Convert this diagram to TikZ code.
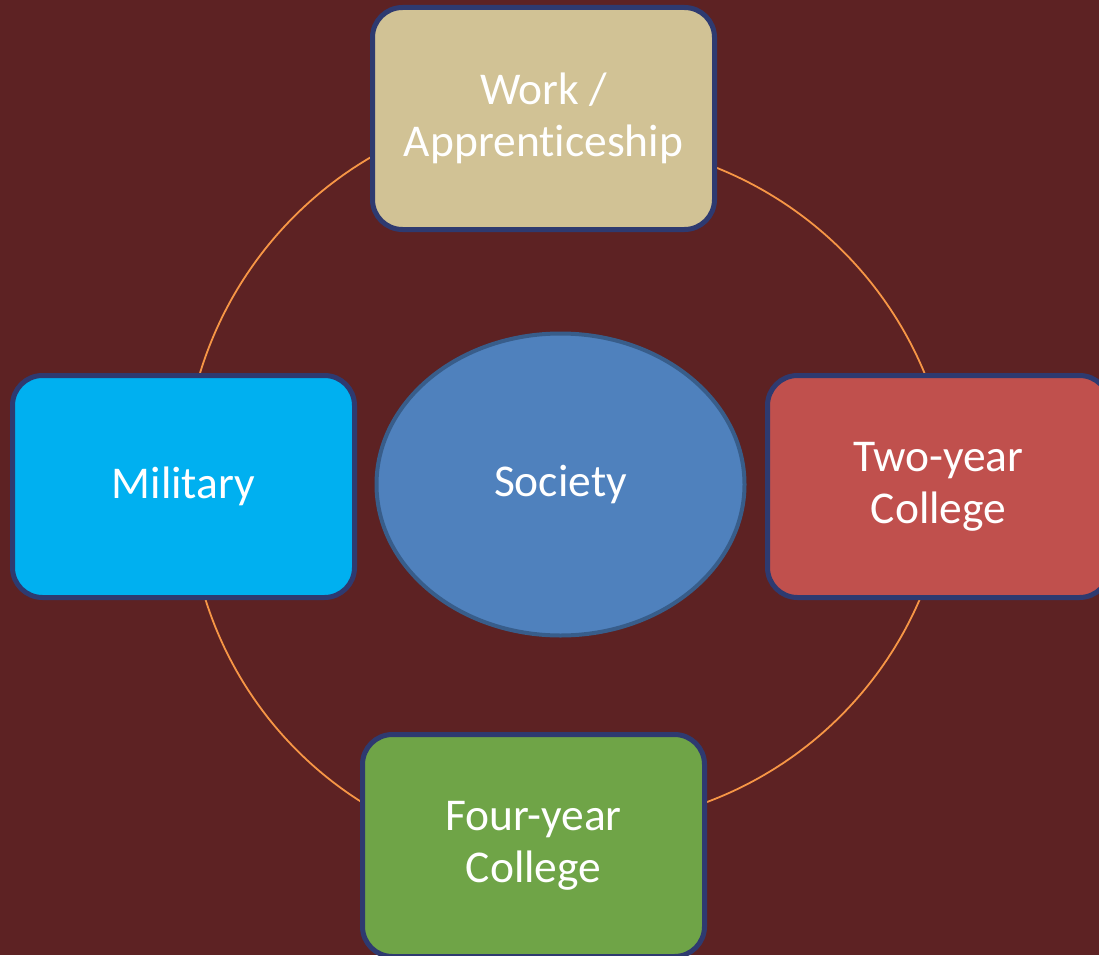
\documentclass[tikz,border=0pt]{standalone}
\usepackage{fontspec}
\setmainfont[Ligatures={NoCommon}]{Carlito}
\usetikzlibrary{shapes.geometric}
\definecolor{bgcol}{RGB}{93,34,35}
\definecolor{workfill}{RGB}{209,194,149}
\definecolor{milfill}{RGB}{0,176,240}
\definecolor{twofill}{RGB}{192,80,77}
\definecolor{fourfill}{RGB}{111,164,71}
\definecolor{socfill}{RGB}{79,129,189}
\definecolor{socline}{RGB}{56,93,138}
\definecolor{boxline}{RGB}{46,58,112}
\definecolor{arccol}{RGB}{247,150,70}
\tikzset{
  pathbox/.style={rectangle, rounded corners=30pt, draw=boxline, line width=5pt,
    minimum width=342pt, minimum height=222pt, inner sep=0pt,
    text=white, align=center, font=\fontsize{45.5}{52}\selectfont},
  hub/.style={ellipse, draw=socline, fill=socfill, line width=4pt,
    minimum width=368pt, minimum height=302pt, inner sep=0pt,
    text=white, font=\fontsize{45.5}{52}\selectfont},
  cyc/.style={draw=arccol, line width=1.8pt}
}
\begin{document}
\begin{tikzpicture}[x=1pt,y=1pt]
\useasboundingbox (0,0) rectangle (1099,-955);
\fill[bgcol] (0,0) rectangle (1099,-955);
\clip (0,0) rectangle (1099,-955);
% arc centres
\coordinate (c1) at (562,-484);
\coordinate (c2) at (575.9,-518.2);
\coordinate (c3) at (575.6,-451.1);
\coordinate (c4) at (559.9,-487.8);
% cycle arcs (drawn beneath the boxes)
\draw[cyc] (c1) ++(119:378.6) arc[start angle=119, end angle=164, radius=378.6];
\draw[cyc] (c2) ++(70:377.6) arc[start angle=70, end angle=21, radius=377.6];
\draw[cyc] (c3) ++(-22:374.7) arc[start angle=-22, end angle=-71, radius=374.7];
\draw[cyc] (c4) ++(196:371.6) arc[start angle=196, end angle=239, radius=371.6];
% nodes
\node[pathbox, fill=workfill] (work) at (543.5,-118.5) {Work /\\Apprenticeship};
\node[pathbox, fill=milfill] (military) at (183.5,-486.5) {Military};
\node[pathbox, fill=twofill] (twoyear) at (938.5,-486.5) {Two-year\\College};
\node[pathbox, fill=fourfill] (fouryear) at (533.5,-845.5) {Four-year\\College};
\node[hub] (society) at (560.5,-484.5) {Society};
\end{tikzpicture}
\end{document}
